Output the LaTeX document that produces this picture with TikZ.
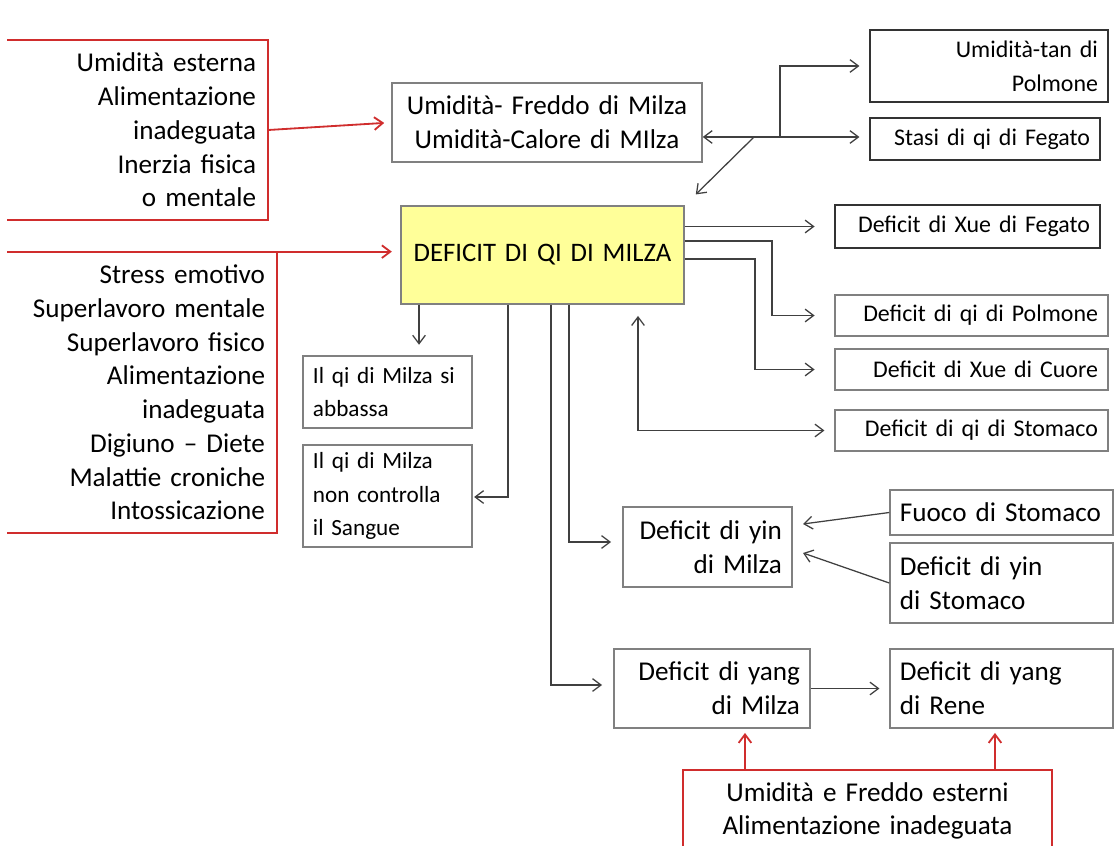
\documentclass[tikz,border=0pt]{standalone}
\usepackage{fontspec}
\setmainfont{Carlito}
\usepackage{tikz}
\usetikzlibrary{
	arrows.meta,
	positioning,
	calc
}
\usepackage{xcolor}
\definecolor{causered}{RGB}{208,45,45}
\definecolor{boxgray}{RGB}{128,128,128}
\definecolor{linegray}{RGB}{64,64,64}
\definecolor{qiyellow}{RGB}{255,255,153}

\begin{document}
\begin{tikzpicture}[
			x=0.025cm, y=-0.025cm,
			>={Straight Barb[length=6pt,width=9pt]},
			font=\fontsize{17}{24}\selectfont,
			big/.style={font=\fontsize{19.3}{24}\selectfont},
			box/.style={draw=boxgray, line width=1pt, inner xsep=0.25cm, inner ysep=0pt},
			darkbox/.style={box, draw=black!80},
			cause/.style={big, inner xsep=0.3cm, inner ysep=0.15cm},
			link/.style={draw=linegray, line width=0.9pt},
			redlink/.style={draw=causered, line width=1.3pt}
			]
			
			\useasboundingbox (0,0) rectangle (1117,846);
			
			% Page edges
			\coordinate (ledge) at (7,0);
			\coordinate (floor) at (0,846);
			
			% Central pattern
			\node[box, big, fill=qiyellow, text width=6.575cm, minimum height=2.45cm, align=center, font=\fontsize{19}{24}\selectfont] (dqm) at (542.5,255) {DEFICIT DI QI DI MILZA};
			
			% Causes (red)
			\node[cause, text width=6.15cm, minimum height=4.5cm, align=right] (c1) at (133,130)
				{Umidità esterna\\Alimentazione\\inadeguata\\Inerzia fisica\\o mentale};
			\node[cause, text width=6.375cm, minimum height=7.025cm, align=right] (c2) at (137.5,392.5)
				{Stress emotivo\\Superlavoro mentale\\Superlavoro fisico\\Alimentazione\\inadeguata\\Digiuno -- Diete\\Malattie croniche\\Intossicazione};
			\node[cause, text width=8.625cm, align=center, anchor=north, inner ysep=0.3cm] (c3) at (867.5,770)
				{Umidità e Freddo esterni\\Alimentazione inadeguata};
			\draw[redlink] (c1.north west -| ledge) -- (c1.north east) -- (c1.south east) -- (c1.south west -| ledge);
			\draw[redlink] (c2.north west -| ledge) -- (c2.north east) -- (c2.south east) -- (c2.south west -| ledge);
			\draw[redlink] (c3.west |- floor) -- (c3.north west) -- (c3.north east) -- (c3.east |- floor);
			
			% Upper patterns
			\node[box, big, text width=7.25cm, minimum height=1.975cm, align=center] (ufm) at (547,122.5)
				{Umidità- Freddo di Milza\\Umidità-Calore di MIlza};
			\node[darkbox, text width=5.45cm, minimum height=1.8cm, align=right] (utp) at (989,66)
				{Umidità-tan di\\Polmone};
			\node[darkbox, text width=5.25cm, minimum height=1.05cm, align=right] (sqf) at (985,139)
				{Stasi di qi di Fegato};
			
			% Right column
			\node[darkbox, text width=6.125cm, minimum height=1.075cm, align=right] (dxf) at (967.5,226.5)
				{Deficit di Xue di Fegato};
			\node[box, text width=6.325cm, minimum height=1.025cm, align=right] (dqp) at (971.5,315.5)
				{Deficit di qi di Polmone};
			\node[box, text width=6.325cm, minimum height=1.025cm, align=right] (dxc) at (971.5,369.5)
				{Deficit di Xue di Cuore};
			\node[box, text width=6.325cm, minimum height=1.025cm, align=right] (dqs) at (971.5,430.5)
				{Deficit di qi di Stomaco};
			
			% Lower left
			\node[box, text width=3.725cm, minimum height=1.8cm, align=left, font=\fontsize{16.5}{24}\selectfont] (qab) at (387.5,392)
				{Il qi di Milza si\\abbassa};
			\node[box, text width=3.725cm, minimum height=2.55cm, align=left, font=\fontsize{16.5}{24}\selectfont] (qns) at (387.5,496)
				{Il qi di Milza\\non controlla\\il Sangue};
			
			% Yin and yang
			\node[box, big, text width=3.725cm, minimum height=2cm, align=right] (dym) at (707.5,547)
				{Deficit di yin\\di Milza};
			\node[box, big, text width=5.075cm, minimum height=1.125cm, align=left] (fds) at (1001.5,512.5)
				{Fuoco di Stomaco};
			\node[box, big, text width=5.075cm, minimum height=2cm, align=left] (dys) at (1001.5,583)
				{Deficit di yin\\di Stomaco};
			\node[box, big, text width=4.4cm, minimum height=1.975cm, align=right] (dyangm) at (712,688.5)
				{Deficit di yang\\di Milza};
			\node[box, big, text width=5.075cm, minimum height=1.975cm, align=left] (dyr) at (1001.5,688.5)
				{Deficit di yang\\di Rene};
			
			% Bends and arrow ends
			\coordinate (j1) at (754,137);
			\coordinate (j2) at (780,137);
			\coordinate (k1) at (772,241);
			\coordinate (k2) at (755,259);
			\coordinate (k3) at (638,430);
			\coordinate (k4) at (419,356);
			\coordinate (k5) at (508,497);
			\coordinate (k6) at (569,542);
			\coordinate (k7) at (551,685);
			\coordinate (t1) at (803,524);
			\coordinate (t2) at (803,553);
			\coordinate (r1) at (745,770);
			\coordinate (r2) at (995,770);
			
			% Red connections
			\draw[redlink,->,shorten >=5pt] (c1.east) -- (ufm.west);
			\draw[redlink,->,shorten >=6pt] (c2.north east) -- (c2.north east -| dqm.west);
			\draw[redlink,->,shorten >=3pt] (r1) -- (r1 |- dyangm.south);
			\draw[redlink,->,shorten >=3pt] (r2) -- (r2 |- dyr.south);
			
			% Connections
			\draw[link,->] (j1) -- (j1 -| ufm.east);
			\draw[link,->,shorten >=7pt] (j1) -- (j1 -| sqf.west);
			\draw[link,->,shorten >=7pt] (j2) |- (utp.west);
			\draw[link,->,shorten >=11pt] (j1) -- (dqm.north east);
			
			\draw[link,->,shorten >=14pt] (dqm.east |- dxf.west) -- (dxf.west);
			\draw[link,->,shorten >=14pt] (k1 -| dqm.east) -- (k1) |- (dqp.west);
			\draw[link,->,shorten >=14pt] (k2 -| dqm.east) -- (k2) |- (dxc.west);
			\draw[link,<->,shorten <=8pt,shorten >=7pt] (k3 |- dqm.south) |- (dqs.west);
			
			\draw[link,->,shorten >=8pt] (k4 |- dqm.south) -- (k4);
			\draw[link,->,shorten >=1pt] (k5 |- dqm.south) -- (k5) -- (k5 -| qns.east);
			\draw[link,->,shorten >=8pt] (k6 |- dqm.south) -- (k6) -- (k6 -| dym.west);
			\draw[link,->,shorten >=8pt] (k7 |- dqm.south) -- (k7) -- (k7 -| dyangm.west);
			
			\draw[link,->] (fds.west) -- (t1);
			\draw[link,->] (dys.west) -- (t2);
			\draw[link,->,shorten >=7pt] (dyangm.east) -- (dyr.west);
			
		\end{tikzpicture}
\end{document}
